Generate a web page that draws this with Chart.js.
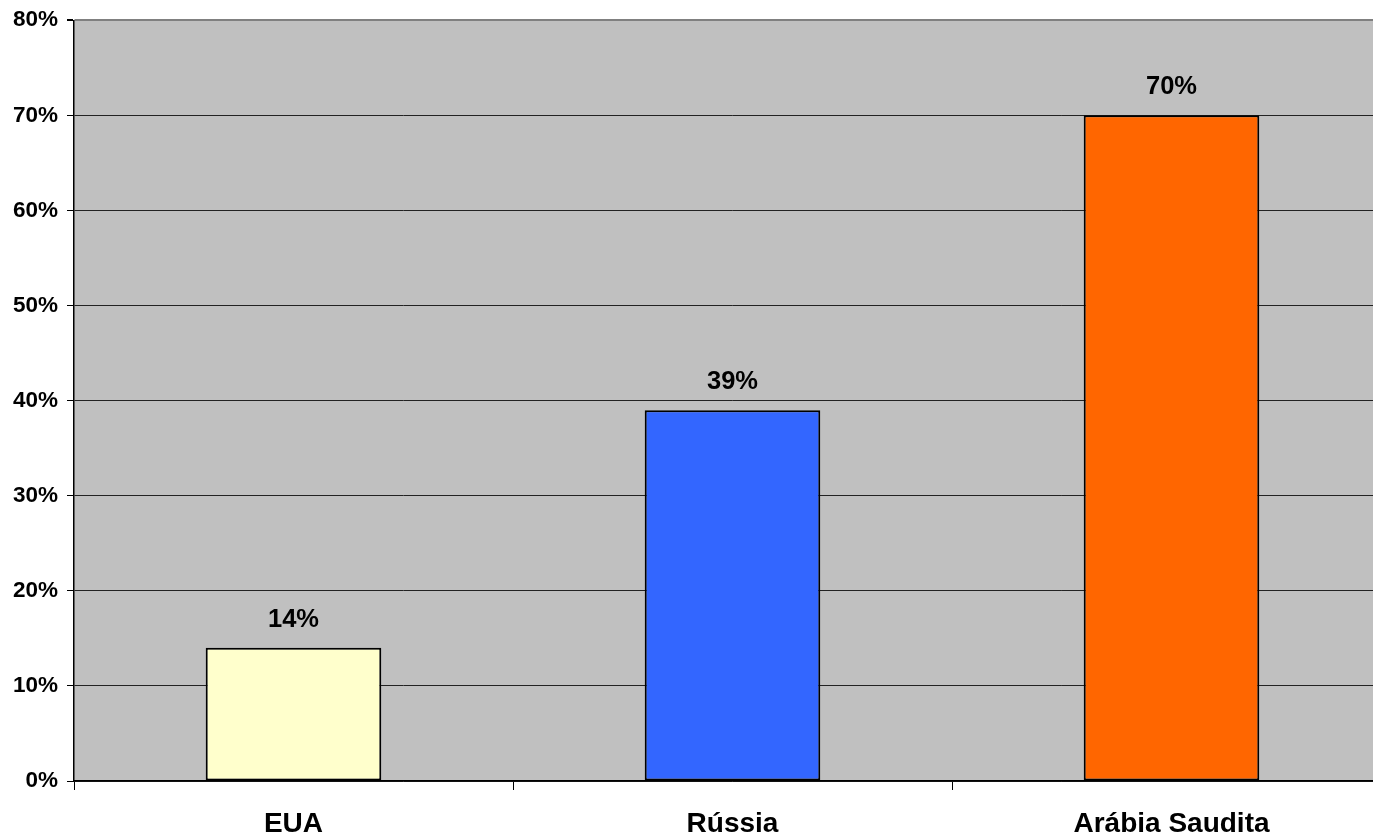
<!DOCTYPE html>
<html>
<head>
<meta charset="utf-8">
<script src="https://cdn.jsdelivr.net/npm/chart.js@4"></script>
<style>
html,body{margin:0;padding:0;background:#fff;overflow:hidden;}
#wrap{position:absolute;left:0;top:0;width:1400px;height:839px;}
</style>
</head>
<body>
<div id="wrap"><canvas id="c" width="1400" height="839"></canvas></div>
<script>
const categories = ["EUA", "Rússia", "Arábia Saudita"];
const values = [14, 39, 70];
const barColors = ["#FFFFCC", "#3366FF", "#FF6600"];
const yTicks = [0, 10, 20, 30, 40, 50, 60, 70, 80];

const FONT = '"Liberation Sans", Arial, sans-serif';

const plotBg = {
  id: 'plotBg',
  beforeDraw(chart) {
    const {ctx, chartArea: a} = chart;
    ctx.save();
    ctx.fillStyle = '#C0C0C0';
    ctx.fillRect(a.left, a.top, a.right - a.left, a.bottom - a.top);
    ctx.restore();
  }
};

const valueLabels = {
  id: 'valueLabels',
  afterDatasetsDraw(chart) {
    const {ctx} = chart;
    const meta = chart.getDatasetMeta(0);
    ctx.save();
    ctx.font = 'bold 25.5px ' + FONT;
    ctx.fillStyle = '#000';
    ctx.textAlign = 'center';
    ctx.textBaseline = 'middle';
    meta.data.forEach((bar, i) => {
      ctx.fillText(values[i] + '%', bar.x, bar.y - 28);
    });
    ctx.restore();
  }
};

new Chart(document.getElementById('c'), {
  type: 'bar',
  data: {
    labels: categories,
    datasets: [{
      data: values,
      backgroundColor: barColors,
      borderColor: '#000',
      borderWidth: 2,
      borderSkipped: false,
      barPercentage: 1,
      categoryPercentage: 0.4
    }]
  },
  options: {
    responsive: false,
    animation: false,
    devicePixelRatio: 1,
    layout: { padding: { top: 19, right: 9, left: 0, bottom: 0 } },
    plugins: { legend: { display: false }, tooltip: { enabled: false } },
    scales: {
      x: {
        afterFit(scale) { scale.height = 58; },
        grid: {
          offset: true,
          drawOnChartArea: false,
          drawTicks: true,
          tickLength: 9,
          color: '#000',
          lineWidth: 1
        },
        border: { display: true, color: '#000', width: 1.5 },
        ticks: {
          color: '#000',
          font: { family: FONT, size: 28, weight: 'bold' },
          padding: 17,
          maxRotation: 0,
          autoSkip: false
        }
      },
      y: {
        min: 0,
        max: 80,
        afterFit(scale) { scale.width = 74; },
        afterBuildTicks(scale) { scale.ticks = yTicks.map(v => ({value: v})); },
        grid: {
          color: (c) => (c.tick && c.tick.value === 80) ? '#808080' : '#222',
          lineWidth: (c) => (c.tick && c.tick.value === 80) ? 2 : 1,
          tickColor: '#000',
          drawTicks: true,
          tickLength: 7
        },
        border: { display: true, color: '#000', width: 1.5 },
        ticks: {
          color: '#000',
          font: { family: FONT, size: 22.5, weight: 'bold', lineHeight: 1 },
          padding: 9,
          callback: (v) => v + '%'
        }
      }
    }
  },
  plugins: [plotBg, valueLabels]
});
</script>
</body>
</html>
